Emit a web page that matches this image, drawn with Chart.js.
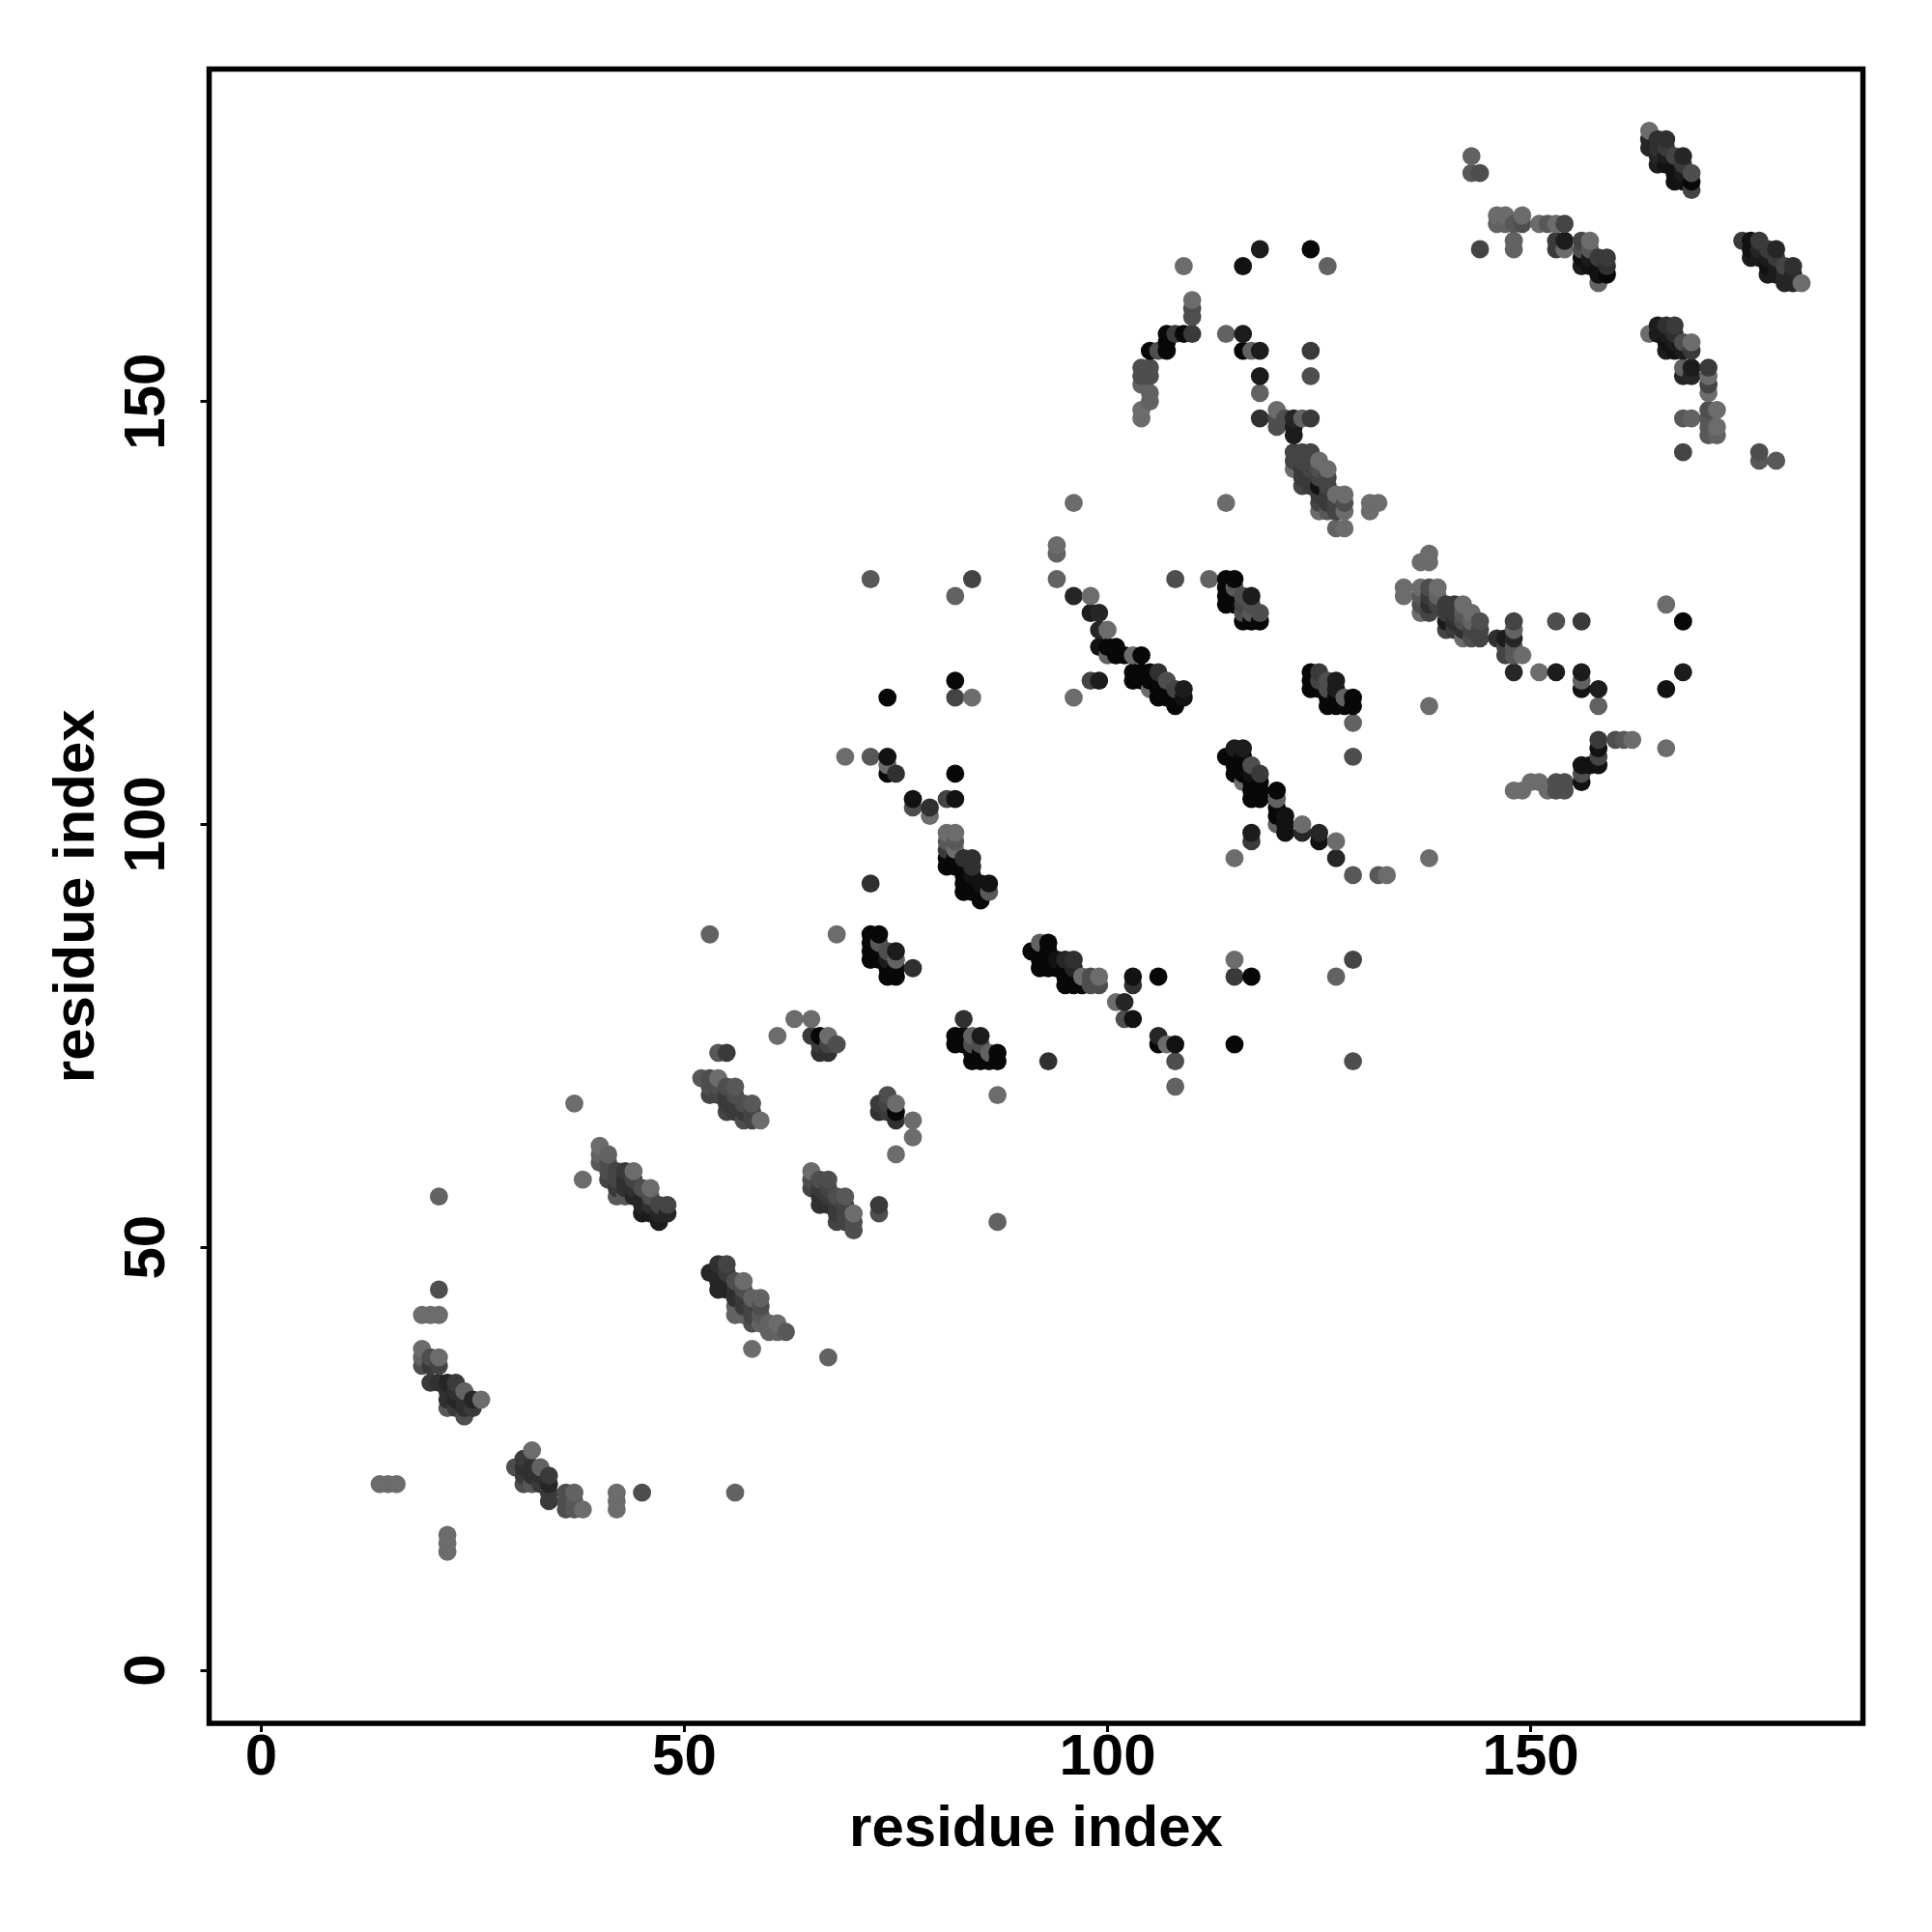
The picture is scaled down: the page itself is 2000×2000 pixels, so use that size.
<!DOCTYPE html>
<html>
<head>
<meta charset="utf-8">
<title>residue contacts</title>
<style>
  body { margin: 0; background: #fff; }
  canvas { display: block; }
</style>
<script src="https://cdn.jsdelivr.net/npm/chart.js@4"></script>
</head>
<body>
<canvas id="contactCanvas" width="2000" height="2000"></canvas>
<script>
// [x residue, y residue, strength 0-10]
var lowerLoose = [[21,56,1],[21,45,3],[19,42,0],[20,42,0],[21,42,0],[14,22,0],[15,22,0],[16,22,0],[22,16,0],[22,15,0],[22,14,0],[42,21,0],[42,20,0],[42,19,0],[45,21,3],[56,21,1],[38,58,0],[37,67,0],[58,38,0],[67,37,1],[53,87,1],[68,87,0],[54,73,2],[55,73,5],[63,77,0],[65,77,0],[61,75,0],[73,55,5],[73,54,3],[77,65,0],[77,63,0],[75,61,0],[72,93,6],[93,72,6],[87,68,0],[87,53,1]];
var hairpinA = [[19,38,0],[19,37,1],[19,36,3],[20,37,3],[20,36,5],[21,37,0],[21,36,4],[20,34,5],[21,34,6],[22,34,7],[23,34,5],[22,33,6],[23,33,6],[24,33,1],[22,32,6],[23,32,7],[24,32,6],[25,32,7],[26,32,0],[22,31,2],[23,31,5],[24,31,6],[25,31,5],[24,30,3]];
var hairpinB = [[30,24,3],[31,25,5],[31,24,6],[31,23,5],[31,22,3],[32,26,0],[32,24,6],[32,23,6],[32,22,2],[33,24,1],[33,23,6],[33,22,5],[34,23,5],[34,22,7],[34,21,5],[34,20,5],[36,21,3],[36,20,3],[36,19,3],[37,21,1],[37,20,2],[37,19,2],[38,19,0]];
var strandC = [[40,62,0],[40,61,1],[40,60,2],[41,61,1],[41,60,3],[41,59,3],[41,58,4],[42,59,4],[42,58,4],[42,57,5],[42,56,2],[43,59,5],[43,58,6],[43,57,6],[43,56,2],[44,59,0],[44,58,4],[44,57,6],[44,56,7],[45,57,3],[45,56,7],[45,55,7],[45,54,8],[46,57,0],[46,56,3],[46,55,6],[46,54,8],[47,55,4],[47,54,7],[47,53,8],[48,55,4],[48,54,7]];
var strandD = [[52,70,2],[53,70,3],[53,69,3],[53,68,4],[54,70,0],[54,69,3],[54,68,4],[55,69,3],[55,68,5],[55,67,5],[55,66,4],[56,69,2],[56,68,3],[56,67,5],[56,66,5],[57,67,3],[57,66,5],[57,65,3],[58,67,2],[58,66,4],[58,65,4],[59,65,0]];
var clusterE = [[65,75,5],[66,75,10],[67,75,0],[66,74,5],[67,74,4],[68,74,3],[66,73,6],[67,73,6]];
var strandF = [[53,47,7],[54,48,6],[54,47,7],[54,46,7],[54,45,7],[55,48,4],[55,47,5],[55,46,7],[55,45,7],[56,46,3],[56,45,6],[56,44,6],[56,43,1],[56,42,1],[57,46,0],[57,45,3],[57,44,5],[57,43,5],[57,42,1],[58,44,1],[58,43,4],[58,42,4],[58,41,3],[59,44,1],[59,43,3],[59,42,2],[59,41,1],[60,41,1],[60,40,1],[61,41,0],[61,40,1],[62,40,2]];
var strandG = [[65,59,0],[65,58,3],[65,57,4],[66,58,3],[66,57,5],[66,56,6],[66,55,6],[67,58,3],[67,57,4],[67,56,5],[67,55,6],[68,56,3],[68,55,5],[68,54,5],[68,53,4],[69,56,2],[69,55,4],[69,54,4],[69,53,4],[70,54,0],[70,53,3],[70,52,3]];
var clusterH = [[73,67,5],[73,66,6],[74,68,3],[74,67,4],[74,66,5],[75,67,0],[75,66,10],[75,65,6]];
var clusterI = [[72,87,10],[72,86,10],[72,85,10],[72,84,10],[73,87,10],[73,86,2],[73,85,10],[73,84,10],[74,85,3],[74,84,8],[74,83,10],[74,82,10],[75,85,8],[75,84,1],[75,83,10],[75,82,10],[77,83,6]];
var clusterJ = [[81,99,0],[81,98,2],[81,97,5],[81,96,10],[81,95,10],[82,99,0],[82,98,2],[82,97,0],[82,96,10],[82,95,10],[83,96,6],[83,95,10],[83,94,10],[83,93,10],[83,92,10],[84,96,6],[84,95,6],[84,94,9],[84,93,10],[84,92,10],[85,93,9],[85,92,10],[85,91,10],[86,93,9],[86,92,2]];
var upperLoose = [[69,108,0],[72,108,2],[74,108,9],[74,107,0],[74,106,10],[75,106,6],[82,106,10],[77,103,9],[77,102,3],[79,102,6],[79,101,0],[81,103,4],[82,103,9],[72,129,2],[84,129,4],[82,127,1],[74,115,10],[82,117,10],[82,115,4],[84,115,0]];
var clusterK = [[83,77,6],[82,75,10],[82,74,10],[83,75,10],[83,74,10],[84,75,1],[84,74,3],[84,73,10],[84,72,10],[85,75,8],[85,74,3],[85,73,10],[85,72,10],[86,73,1],[86,72,10],[87,73,10],[87,72,10]];
var clusterL = [[91,85,10],[92,86,1],[92,85,10],[92,84,10],[92,83,10],[93,86,10],[93,85,10],[93,84,10],[93,83,10],[94,84,9],[94,83,10],[95,84,7],[95,83,10],[95,82,10],[95,81,10],[96,84,6],[96,83,7],[96,82,10],[96,81,10],[97,82,0],[97,81,10],[98,82,3],[98,81,3],[99,82,0],[99,81,3]];
var middleLoose = [[103,82,9],[103,81,6],[106,82,10],[101,79,0],[102,79,7],[102,77,3],[103,77,9],[106,75,7],[106,74,10],[107,74,0],[108,74,9],[108,72,3],[108,69,1],[115,84,0],[115,82,5],[117,82,10],[115,74,10],[129,84,4],[127,82,1],[129,72,3],[94,133,0],[94,132,1],[94,129,1],[96,138,0],[114,138,0],[96,127,7],[98,127,0],[98,125,8],[99,125,7],[99,123,7],[100,123,0],[98,117,4],[99,117,8],[96,115,0],[108,129,3],[112,129,1]];
var clusterM = [[99,121,9],[100,121,10],[100,120,1],[101,121,10],[101,120,10],[102,120,10],[103,120,0],[103,118,10],[103,117,10],[104,120,10],[104,118,10],[104,117,10],[105,118,10],[105,117,10],[105,116,0],[106,118,6],[106,117,10],[106,116,10],[106,115,10],[107,117,3],[107,116,10],[107,115,10],[108,116,4],[108,115,10],[108,114,10],[109,116,8],[109,115,9]];
var clusterN = [[114,129,10],[114,128,10],[114,127,10],[114,126,10],[115,129,10],[115,128,2],[115,127,10],[115,126,10],[116,127,3],[116,126,4],[116,125,3],[116,124,10],[117,127,8],[117,126,3],[117,125,2],[117,124,10],[118,125,3],[118,124,10]];
var clusterO = [[114,108,10],[115,109,8],[115,108,10],[115,107,10],[115,106,10],[116,109,8],[116,108,10],[116,107,10],[116,106,10],[116,105,0],[117,107,3],[117,106,9],[117,105,10],[117,104,10],[117,103,10],[118,106,5],[118,105,10],[118,104,10],[118,103,10],[120,104,10],[120,103,1],[120,102,10],[120,101,10],[120,100,1],[121,101,9],[121,100,9],[121,99,9],[123,100,0],[123,99,7],[125,99,7],[125,98,9],[127,98,0],[127,96,7],[129,94,2],[132,94,2],[133,94,0],[117,99,8],[117,98,5],[115,96,0],[138,96,0]];
var clusterP = [[124,118,10],[124,117,10],[124,116,10],[125,118,5],[125,117,4],[125,116,10],[126,117,3],[126,116,3],[126,115,10],[126,114,10],[127,117,8],[127,116,8],[127,115,10],[127,114,10],[128,115,1],[128,114,10],[129,115,10],[129,114,10],[129,112,1],[129,108,3]];
var clusterQ = [[104,154,3],[104,153,3],[104,152,1],[104,149,0],[104,148,0],[105,156,10],[105,154,3],[105,153,3],[105,151,1],[105,150,1],[106,156,3],[107,158,10],[107,157,10],[107,156,10],[108,158,5],[109,166,0],[109,158,10],[110,162,0],[110,161,3],[110,160,3],[110,158,5],[116,166,9],[118,168,8],[124,168,10],[126,166,1],[114,158,1],[116,158,8],[116,156,10],[117,156,1],[118,156,8],[124,156,5],[118,153,8],[124,153,3],[118,151,1],[118,148,6],[120,149,0],[120,148,3],[120,147,3],[121,148,3],[122,148,7],[122,147,8],[122,146,8],[123,148,1],[124,148,5]];
var clusterR = [[122,144,4],[122,143,4],[122,142,0],[123,144,4],[123,143,4],[123,142,5],[123,141,5],[123,140,4],[124,144,4],[124,143,4],[124,142,4],[124,141,5],[124,140,5],[125,143,0],[125,142,3],[125,141,4],[125,140,9],[125,139,5],[125,138,4],[125,137,0],[126,142,0],[126,141,4],[126,140,4],[126,139,5],[126,138,5],[126,137,2],[127,139,0],[127,138,4],[127,137,4],[127,135,1],[128,139,0],[128,138,3],[128,137,0],[128,135,0],[131,138,0],[131,137,0],[132,138,0]];
var clusterS = [[138,132,0],[137,131,0],[138,131,0],[135,128,0],[135,127,0],[137,128,0],[137,127,2],[137,126,3],[137,125,0],[138,128,3],[138,127,5],[138,126,6],[138,125,4],[139,128,0],[139,127,1],[139,126,4],[140,126,5],[140,125,5],[140,124,8],[140,123,4],[141,126,5],[141,125,5],[141,124,6],[141,123,5],[142,126,0],[142,125,2],[142,124,3],[142,123,6],[142,122,0],[143,125,0],[143,124,1],[143,123,4],[143,122,3],[144,124,3],[144,123,4],[144,122,4]];
var clusterT = [[146,122,6],[147,122,8],[147,121,4],[147,120,4],[148,124,4],[148,123,1],[148,122,7],[148,121,2],[148,120,2],[149,120,0],[148,118,7],[151,118,0],[153,118,8],[153,124,3],[156,124,5],[156,118,8],[156,117,1],[156,116,9],[158,116,8],[158,114,1],[166,126,0],[168,124,10],[168,118,8],[166,116,9],[166,109,0],[138,114,0]];
var clusterU = [[160,110,3],[161,110,2],[162,110,0],[158,110,5],[158,109,9],[158,108,4],[158,107,9],[156,107,9],[157,107,9],[156,106,3],[156,105,9],[148,104,0],[149,104,0],[150,105,0],[151,105,0],[152,104,0],[153,105,3],[154,105,3],[153,104,3],[154,104,3]];
var clusterV = [[143,179,1],[143,177,2],[144,177,3],[146,172,0],[146,171,1],[147,172,0],[147,171,1],[148,171,2],[149,172,0],[149,171,3],[151,171,0],[152,171,2],[153,171,0],[154,171,4],[144,168,4],[148,169,1],[148,168,1],[153,169,5],[153,168,5],[154,169,8],[154,168,0],[156,169,4],[156,168,3],[156,167,9],[156,166,8],[157,169,0],[157,168,2],[157,167,8],[157,166,9],[158,167,5],[158,166,9],[158,165,9],[158,164,1],[159,167,5],[159,166,6],[159,165,10]];
var clusterW = [[164,182,0],[164,181,7],[164,180,7],[165,181,6],[165,180,6],[165,179,7],[165,178,8],[166,181,6],[166,180,5],[166,179,8],[166,178,9],[167,179,4],[167,178,9],[167,177,9],[167,176,9],[168,179,7],[168,178,5],[168,177,8],[168,176,9],[169,177,3],[169,176,10],[169,175,4]];
var clusterX = [[175,169,5],[176,169,9],[176,168,9],[176,167,8],[177,169,5],[177,168,7],[177,167,8],[178,168,5],[178,167,8],[178,166,9],[178,165,8],[179,168,7],[179,167,5],[179,166,8],[179,165,8],[180,166,4],[180,165,7],[180,164,7],[181,166,6],[181,165,7],[181,164,7],[182,164,0]];
var clusterY = [[165,159,8],[165,158,8],[164,158,0],[166,159,6],[166,158,8],[166,157,9],[166,156,8],[167,159,5],[167,158,6],[167,157,8],[167,156,9],[168,157,3],[168,156,8],[169,157,0],[169,156,5],[168,154,1],[168,153,7],[169,154,8],[169,153,7],[171,154,5],[171,153,0],[171,152,4],[171,151,0],[171,149,3],[172,149,0],[168,148,2],[169,148,1],[171,148,2],[171,147,2],[171,146,2],[172,147,0],[172,146,1],[168,144,4],[177,144,3],[177,143,2],[179,143,2]];

var tickValues = [0, 50, 100, 150];
var axisLabel = 'residue index';

var contacts = [].concat(
  lowerLoose, hairpinA, hairpinB, strandC, strandD, clusterE, strandF, strandG, clusterH,
  clusterI, clusterJ, upperLoose, clusterK, clusterL, middleLoose, clusterM, clusterN,
  clusterO, clusterP, clusterQ, clusterR, clusterS, clusterT, clusterU, clusterV,
  clusterW, clusterX, clusterY
);
// later residues are painted on top
contacts.sort(function (a, b) { return a[0] - b[0] || a[1] - b[1]; });

function strengthColor(s) {
  var g = 108 - s * 10;
  return 'rgb(' + g + ',' + g + ',' + g + ')';
}

// closed frame round the plot
var framePlugin = {
  id: 'frame',
  afterDatasetsDraw: function (chart) {
    var a = chart.chartArea, ctx = chart.ctx;
    ctx.save();
    ctx.strokeStyle = '#000';
    ctx.lineWidth = 5.5;
    ctx.strokeRect(a.left, a.top, a.right - a.left, a.bottom - a.top);
    ctx.restore();
  }
};

function axisOptions(min, max, rotation, tickPadding, titlePadding, fit) {
  return {
    type: 'linear',
    min: min,
    max: max,
    afterBuildTicks: function (scale) {
      scale.ticks = tickValues.map(function (v) { return { value: v }; });
    },
    afterFit: fit,
    border: { display: false },
    grid: { drawOnChartArea: false, drawTicks: true, tickLength: 9, tickColor: '#000', tickWidth: 3 },
    ticks: {
      color: '#000',
      font: { family: 'Liberation Sans', weight: 'bold', size: 60 },
      padding: tickPadding,
      minRotation: rotation,
      maxRotation: rotation,
      crossAlign: 'center'
    },
    title: {
      display: true,
      text: axisLabel,
      color: '#000',
      font: { family: 'Liberation Sans', weight: 'bold', size: 60 },
      padding: titlePadding
    }
  };
}

new Chart(document.getElementById('contactCanvas').getContext('2d'), {
  type: 'scatter',
  data: {
    datasets: [{
      data: contacts.map(function (c) { return { x: c[0], y: c[1] }; }),
      backgroundColor: contacts.map(function (c) { return strengthColor(c[2]); }),
      borderWidth: 0,
      pointRadius: 9.4,
      clip: false
    }]
  },
  options: {
    responsive: false,
    animation: false,
    layout: { padding: { left: 0, right: 71.5, top: 71.5, bottom: 0 } },
    plugins: { legend: { display: false }, tooltip: { enabled: false } },
    scales: {
      x: axisOptions(-6.15, 189.25, 0, 27, { top: 0, bottom: 70 }, function (s) { s.height = 216; }),
      y: axisOptions(-6.28, 189.3, 90, 4, { top: 44, bottom: 0 }, function (s) { s.width = 216.5; })
    }
  },
  plugins: [framePlugin]
});
</script>
</body>
</html>
